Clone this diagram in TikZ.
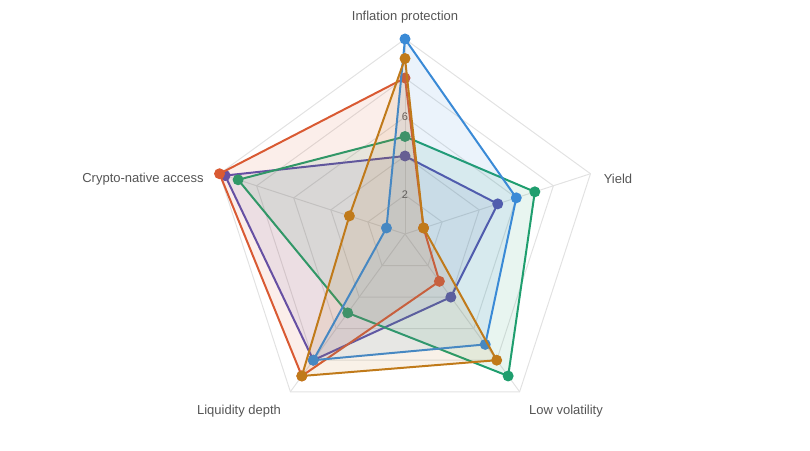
\documentclass[tikz,border=0pt]{standalone}
\usepackage{fontspec}
\setmainfont{Liberation Sans}
\definecolor{cblue}{HTML}{3A8AD6}
\definecolor{cred}{HTML}{D95A33}
\definecolor{cgreen}{HTML}{1F9E6E}
\definecolor{cpurple}{HTML}{5A4FB0}
\definecolor{corange}{HTML}{C07A1A}
\definecolor{cgrid}{HTML}{E2E2E2}
\definecolor{ctext}{HTML}{555555}
\tikzset{
  gridline/.style={draw=cgrid, line width=1pt},
  axislabel/.style={text=ctext, font=\fontsize{13}{15}\selectfont},
  ticklabel/.style={text=ctext, font=\fontsize{11}{13}\selectfont},
  serie/.style={draw=#1, line width=2pt, line join=round, fill=#1, fill opacity=0.1, draw opacity=1},
  dot/.style={fill=#1, draw=none}
}
\begin{document}
\begin{tikzpicture}[x=1pt,y=1pt]
\useasboundingbox (0,0) rectangle (810,450);
\begin{scope}[shift={(405,216)}]

% grid
\foreach \r in {2,4,6,8,10}
  \draw[gridline] (90:\r*19.5) -- (18:\r*19.5) -- (-54:\r*19.5) -- (-126:\r*19.5) -- (162:\r*19.5) -- cycle;
\foreach \a in {90,18,-54,-126,162}
  \draw[gridline] (0,0) -- (\a:195);
\node[ticklabel] (t2) at (0,39) {2};
\node[ticklabel] (t6) at (0,117) {6};

% series
\foreach \name/\col/\vals in {purple/cpurple/{4,5,4,8,9.7},green/cgreen/{5,7,9,5,9},red/cred/{8,1,3,9,10},blue/cblue/{10,6,7,8,1},orange/corange/{9,1,8,9,3}}{
  \foreach \v [count=\i] in \vals
    \coordinate (\name\i) at ({90-72*(\i-1)}:\v*19.5);
  \draw[serie=\col] (\name1) -- (\name2) -- (\name3) -- (\name4) -- (\name5) -- cycle;
  \foreach \i in {1,...,5}
    \fill[dot=\col] (\name\i) circle (5.5);
}

% labels
\node[axislabel] (linf) at (0,217) {Inflation protection};
\node[axislabel] (lyld) at (213,55) {Yield};
\node[axislabel] (lvol) at (161,-177) {Low volatility};
\node[axislabel] (lliq) at (-166,-177) {Liquidity depth};
\node[axislabel] (lcry) at (-262,55) {Crypto-native access};
\end{scope}
\end{tikzpicture}
\end{document}
